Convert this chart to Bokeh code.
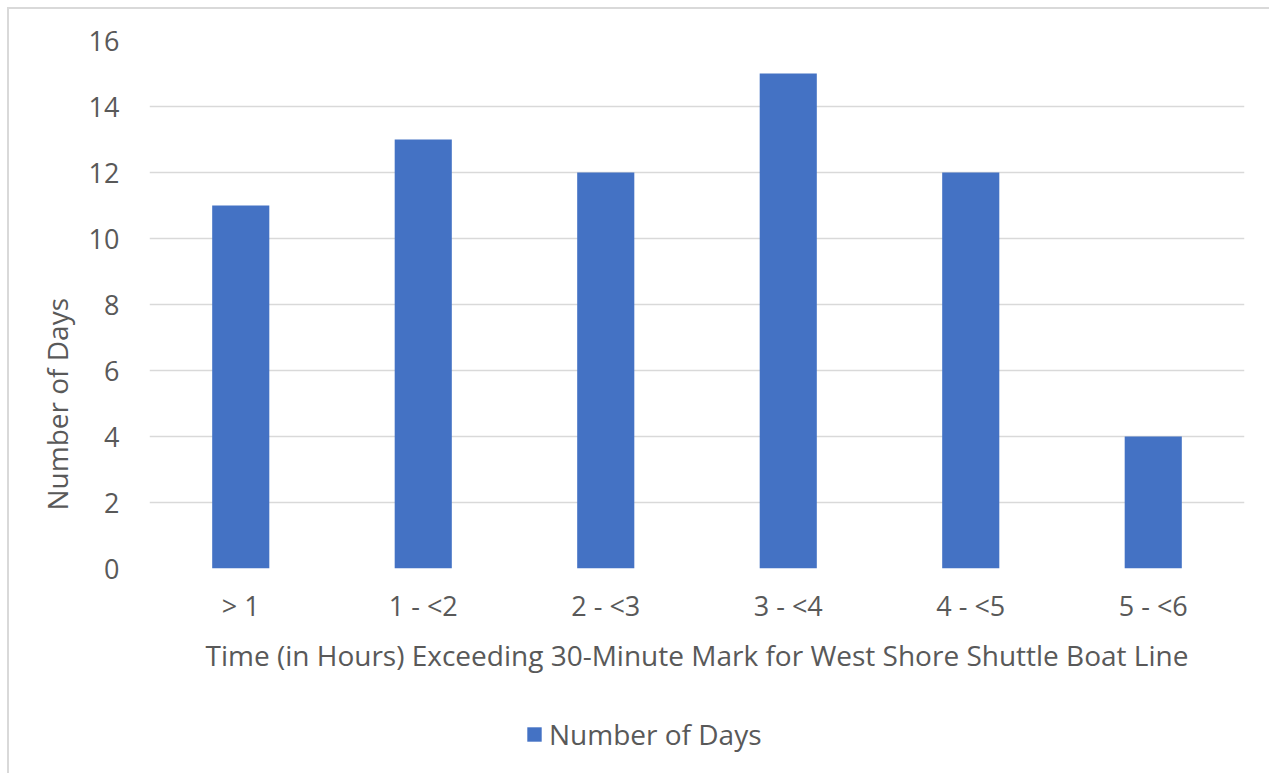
from bokeh.plotting import figure
from bokeh.layouts import column
from bokeh.models import ColumnDataSource, FactorRange, Range1d, Legend, LegendItem, FixedTicker, Title
from bokeh.embed import file_html
from bokeh.resources import INLINE

categories = ["> 1", "1 - <2", "2 - <3", "3 - <4", "4 - <5", "5 - <6"]
days = [11, 13, 12, 15, 12, 4]
y_ticks = [0, 2, 4, 6, 8, 10, 12, 14, 16]

FONT = "Open Sans"
TEXT = "#595959"
GRID = "#d9d9d9"
BAR = "#4472C4"
SIZE = "27px"
TITLE_SIZE = "28px"

source = ColumnDataSource(data=dict(cat=categories, days=days))

# main bar chart
p = figure(
    x_range=FactorRange(*categories, range_padding=0),
    y_range=Range1d(0, 16),
    width=1262, height=690,
    output_backend="svg", toolbar_location=None,
    min_border_left=140, min_border_right=27,
    min_border_top=31, min_border_bottom=131,
)
p.outline_line_color = None
p.background_fill_color = "white"
p.border_fill_color = "white"

bars = p.vbar(x="cat", top="days", width=0.313, source=source,
              fill_color=BAR, line_color=None)

p.xgrid.grid_line_color = None
p.ygrid.grid_line_color = GRID
p.ygrid.grid_line_width = 1.5
p.yaxis.ticker = FixedTicker(ticks=y_ticks)

for ax in (p.xaxis[0], p.yaxis[0]):
    ax.axis_line_color = None
    ax.major_tick_line_color = None
    ax.minor_tick_line_color = None
    ax.major_label_text_font = FONT
    ax.major_label_text_color = TEXT
    ax.major_label_text_font_size = SIZE
    ax.axis_label_text_font = FONT
    ax.axis_label_text_color = TEXT
    ax.axis_label_text_font_size = TITLE_SIZE
    ax.axis_label_text_font_style = "normal"

p.xaxis.axis_label = "Time (in Hours) Exceeding 30-Minute Mark for West Shore Shuttle Boat Line"
p.xaxis.major_label_standoff = 12
p.xaxis.axis_label_standoff = 9
p.yaxis.major_label_standoff = 24

# y-axis title, set a little below the middle of the axis
y_title = Title(
    text="Number of Days", align="left", offset=58, standoff=19,
    text_font=FONT, text_color=TEXT, text_font_size=TITLE_SIZE,
    text_font_style="normal",
)
p.add_layout(y_title, "left")

# legend strip under the chart; its bar renderer shares the data but sits
# outside the strip's y range, so only the legend entry shows
lp = figure(
    x_range=FactorRange(*categories, range_padding=0),
    y_range=Range1d(100, 200),
    width=1262, height=74,
    output_backend="svg", toolbar_location=None,
    min_border=0,
)
lp.outline_line_color = None
lp.axis.visible = False
lp.grid.visible = False
legend_bars = lp.vbar(x="cat", top="days", width=0.313, source=source,
                      fill_color=BAR, line_color=None)

legend = Legend(
    items=[LegendItem(label="Number of Days", renderers=[legend_bars])],
    location=(376, 20),
    orientation="horizontal",
    glyph_width=18, glyph_height=18,
    label_standoff=6, padding=0, margin=0, spacing=0,
    border_line_color=None, background_fill_alpha=0,
    label_text_font=FONT, label_text_color=TEXT, label_text_font_size=TITLE_SIZE,
)
lp.add_layout(legend, "center")

layout = column(p, lp, spacing=0)
layout.margin = (7, 0, 0, 7)
layout.styles = {"border-left": "2px solid #d9d9d9", "border-top": "2px solid #d9d9d9"}

open("out.html", "w").write(file_html(layout, INLINE))
